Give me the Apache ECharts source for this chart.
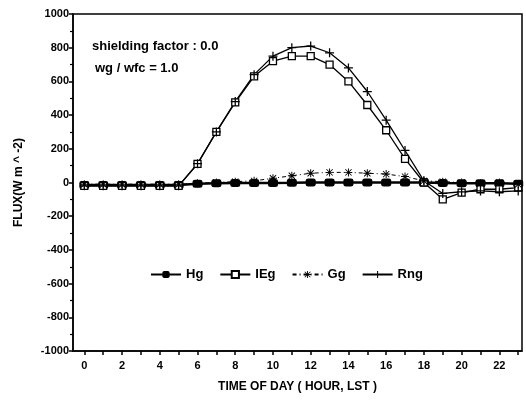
<!DOCTYPE html>
<html>
<head>
<meta charset="utf-8">
<script src="https://cdn.jsdelivr.net/npm/echarts@6/dist/echarts.min.js"></script>
<style>
html, body { margin: 0; padding: 0; background: #fff; }
#chartView { width: 526px; height: 400px; }
</style>
</head>
<body>
<div id="chartView"></div>
<script>
var hours = [0,1,2,3,4,5,6,7,8,9,10,11,12,13,14,15,16,17,18,19,20,21,22,23];
var hgData  = [-15,-15,-15,-15,-15,-15,-8,-5,-3,-3,-3,-2,0,0,0,0,0,0,0,-3,-5,-5,-5,-8];
var iegData = [-20,-20,-20,-20,-20,-20,110,300,475,630,720,750,750,700,600,460,310,140,0,-100,-60,-40,-40,-30];
var ggData  = [-10,-10,-10,-10,-10,-10,-5,0,5,10,25,40,55,60,60,55,50,35,10,5,0,-5,0,-10];
var rngData = [-20,-20,-20,-20,-20,-20,112,300,480,640,750,800,810,770,680,540,370,190,10,-65,-55,-50,-55,-50];
var xTickLabels = [0,2,4,6,8,10,12,14,16,18,20,22];

var plusSym = 'path://M4.3,0h1.4v10h-1.4z M0,4.3h10v1.4h-10z';
var starSym = 'path://M4.4,0h1.2v10h-1.2z M0,4.4h10v1.2h-10z M1.5,0.7l7.8,7.8l-0.8,0.8l-7.8,-7.8z M8.5,0.7l0.8,0.8l-7.8,7.8l-0.8,-0.8z';

function pairs(arr) {
	return hours.map(function (h, i) { return [h, arr[i]]; });
}

var chartView = echarts.init(document.getElementById('chartView'));
var ops = {
	animation: false,
	textStyle: { fontFamily: 'Liberation Sans', fontWeight: 'bold', color: '#000' },
	grid: {
		left: 73, right: 4, top: 14, bottom: 49,
		show: true, borderColor: '#000', borderWidth: 1.5
	},
	graphic: [{
		type: 'text', left: 92, top: 40,
		style: { text: 'shielding factor : 0.0', font: 'bold 13px "Liberation Sans"', fill: '#000' }
	}, {
		type: 'text', left: 95, top: 62,
		style: { text: 'wg / wfc = 1.0', font: 'bold 13px "Liberation Sans"', fill: '#000' }
	}],
	legend: {
		top: 263, left: 145,
		itemWidth: 30, itemHeight: 9, itemGap: 16,
		textStyle: { fontSize: 13, fontWeight: 'bold', color: '#000' },
		data: ['Hg', 'IEg', 'Gg', 'Rng']
	},
	xAxis: {
		type: 'value', min: -0.6, max: 23.2,
		name: 'TIME OF DAY ( HOUR, LST )', nameLocation: 'middle', nameGap: 30,
		nameTextStyle: { fontSize: 12, fontWeight: 'bold', color: '#000' },
		axisLine: { onZero: false, lineStyle: { color: '#000', width: 1.5 } },
		axisTick: { show: true, length: 4, lineStyle: { color: '#000', width: 1.5 }, customValues: hours },
		axisLabel: { fontSize: 11, fontWeight: 'bold', color: '#000', margin: 9, customValues: xTickLabels },
		splitLine: { show: false }
	},
	yAxis: {
		type: 'value', min: -1000, max: 1000, interval: 200,
		name: 'FLUX(W m ^ -2)', nameLocation: 'middle', nameGap: 48,
		nameTextStyle: { fontSize: 12, fontWeight: 'bold', color: '#000' },
		axisLine: { show: true, onZero: false, lineStyle: { color: '#000', width: 1.5 } },
		axisTick: { show: true, length: 4, lineStyle: { color: '#000', width: 1.5 } },
		minorTick: { show: true, splitNumber: 2, length: 3, lineStyle: { color: '#000', width: 1.2 } },
		axisLabel: { fontSize: 11, fontWeight: 'bold', color: '#000', margin: 4, formatter: function (v) { return String(v); } },
		splitLine: { show: false }
	},
	series: [{
		name: 'Hg', type: 'line', data: pairs(hgData),
		symbol: 'roundRect', symbolSize: [10, 8],
		itemStyle: { color: '#000' },
		lineStyle: { color: '#000', width: 2.5 }
	}, {
		name: 'IEg', type: 'line', data: pairs(iegData),
		symbol: 'rect', symbolSize: 7,
		itemStyle: { color: '#fff', borderColor: '#000', borderWidth: 1.3 },
		lineStyle: { color: '#000', width: 1.3 }
	}, {
		name: 'Gg', type: 'line', data: pairs(ggData),
		symbol: starSym, symbolSize: 8,
		itemStyle: { color: '#000' },
		lineStyle: { color: '#000', width: 1, type: [4, 3, 1, 3] }
	}, {
		name: 'Rng', type: 'line', data: pairs(rngData),
		symbol: plusSym, symbolSize: 9,
		itemStyle: { color: '#000' },
		lineStyle: { color: '#000', width: 1.3 }
	}]
};
chartView.setOption(ops);
</script>
</body>
</html>
